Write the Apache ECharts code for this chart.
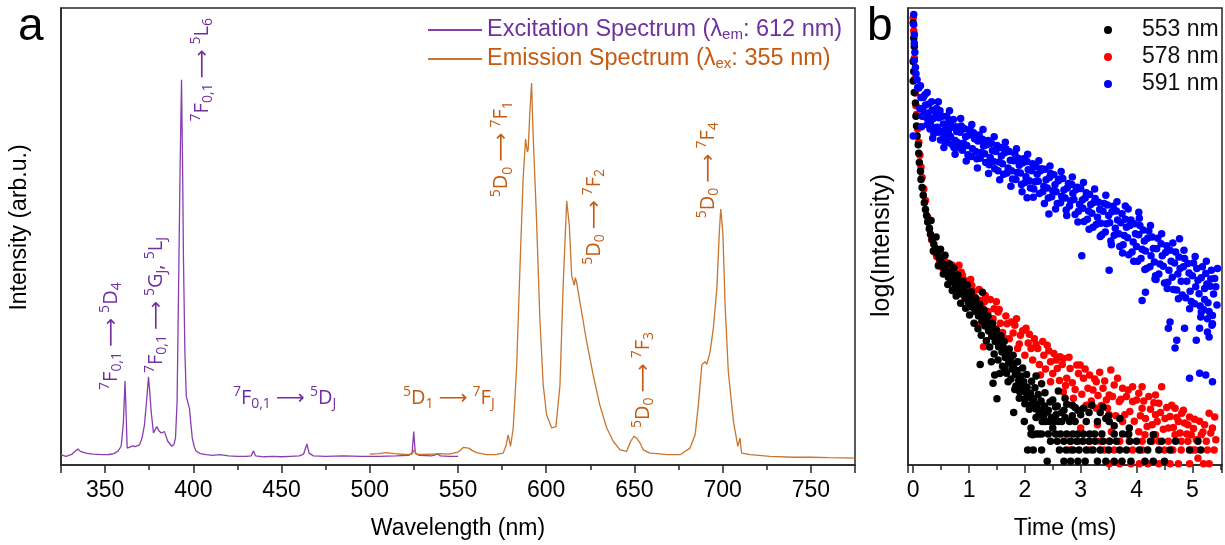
<!DOCTYPE html>
<html><head><meta charset="utf-8">
<script src="https://cdn.jsdelivr.net/npm/echarts@6/dist/echarts.min.js"></script>
<style>html,body{margin:0;padding:0;background:#fff}#c{width:1225px;height:545px}</style>
</head><body><div id="c"></div>
<script>
// ---------------- DATA ----------------
// Panel a: excitation spectrum (lambda_em = 612 nm)
const excWl = [325,327.9,331,334.5,336,339.2,343,348.6,352,355,357.2,359.1,360.3,361.3,362.0,362.5,365.7,367,369.5,371,372.3,373.5,374.6,375.3,376.1,377.4,379.3,380.5,381.8,383.6,385.5,387.8,389.0,389.9,390.8,391.6,392.5,393.3,394.0,394.4,395.2,396.0,397.8,398.6,399.4,400.5,401.6,404,407.3,411,414.9,420,425,430,432.8,434.1,435.2,440,445,450,455,460,462.5,464.4,465.6,468,475,485,495,505,515,522,524,524.9,525.8,528,535,538.5,540,545,550];
const excI  = [2.2,1.9,2.3,3.5,3.0,2.6,2.4,2.25,2.3,2.5,3.0,4.1,9,18.4,10,3.7,4.2,4.0,4.4,6.0,8.8,14,19.3,16,11.7,7.0,8.4,7.5,7.0,7.3,5.2,4.1,4.5,5.9,14,37.8,65,84.3,62,45.1,25,15.0,12.4,9,5.9,4.0,3.0,2.5,2.25,2.1,2.25,2.0,1.9,1.9,2.0,3.1,2.0,1.8,1.9,1.8,1.9,2.0,2.4,4.6,2.6,2.0,1.9,2.0,1.9,1.9,2.0,2.1,2.6,7.3,2.6,2.1,2.0,2.4,2.0,1.9,1.9];
// Panel a: emission spectrum (lambda_ex = 355 nm)
const emWl = [500,505,509.4,514,520,524,525.2,526.4,530,535,540,545,550,553,556,558,560.5,566.2,572,575.6,577.2,578.4,579.8,581.3,583.2,585.1,586.9,588.3,589.3,589.8,590.7,591.7,592.6,594.5,596.4,598.3,600.2,603.1,605.5,607.8,609.6,611.6,613.1,614.4,615.9,616.5,617.2,619.1,622.9,626.6,630.4,634.3,638.0,641.8,645.6,647.9,649.7,651.3,653.2,655.0,658.8,663,668.3,675.9,681.5,684.4,686.2,688.2,690.0,691.0,691.6,692.9,694.7,696.7,698.1,698.9,700.1,701.4,703.2,706.1,708.6,709.6,709.9,710.3,710.8,715.6,726.9,740,750,760,775];
const emI  = [2.4,2.5,2.7,2.5,2.3,2.4,3.3,2.4,2.3,2.4,2.5,2.4,2.8,3.85,3.7,3.2,2.7,2.25,2.3,2.6,4.2,6.6,4.1,8.1,21.1,42.9,62.5,71.3,68.5,69.1,77.1,83.6,72.0,53.8,32.0,17.5,11.0,8.1,8.4,17.5,39.3,57.8,52.4,41.5,39.3,41.0,40.0,35.7,27.0,19.7,13.1,8.1,5.2,3.3,3.0,5.2,6.25,5.9,4.8,3.3,2.6,2.5,2.25,2.25,3.7,6.6,13.1,21.9,22.6,22.0,22.9,24.8,29.9,38.6,50.9,56.0,50.9,34.9,20.4,9.5,4.1,4.5,5.9,4.0,2.6,2.25,1.9,1.7,1.7,1.6,1.5];
const waveTicks = [350,400,450,500,550,600,650,700,750];
const timeTicks = [0,1,2,3,4,5];

// Panel b: decay curves [time (ms), log intensity (arb.)]
const decay553 = [[0.0,96.7],[0.01,93.4],[0.02,91.6],[0.0,88.3],[0.01,86.1],[0.0,84.0],[0.02,81.5],[0.04,79.2],[0.05,76.3],[0.06,74.2],[0.07,72.0],[0.09,70.1],[0.1,68.2],[0.11,66.2],[0.13,64.3],[0.14,62.5],[0.16,60.7],[0.18,59.0],[0.2,57.4],[0.22,55.9],[0.24,54.6],[0.26,53.2],[0.29,51.8],[0.31,50.5],[0.34,49.4],[0.37,48.3],[0.4,47.4],[0.43,46.3],[0.46,45.4],[0.5,44.5],[0.53,43.6],[0.56,42.8],[0.6,41.9],[0.58,43.9],[0.63,41.1],[0.66,42.3],[0.69,40.2],[0.72,41.4],[0.75,39.3],[0.78,40.4],[0.81,38.4],[0.84,39.6],[0.87,37.4],[0.9,38.6],[0.93,36.5],[0.96,37.6],[0.99,35.6],[1.02,36.5],[1.05,34.6],[1.08,35.6],[1.11,33.6],[1.14,34.6],[1.17,32.6],[1.2,33.4],[1.23,31.5],[1.24,37.8],[1.26,32.5],[1.29,30.4],[1.32,31.4],[1.35,29.3],[1.38,30.3],[1.4,22.6],[1.41,28.2],[1.43,17.9],[1.44,29.2],[1.46,19.7],[1.47,27.0],[1.5,28.0],[1.53,25.9],[1.56,26.8],[1.59,24.7],[1.62,25.6],[1.64,21.1],[1.65,23.5],[1.68,24.4],[1.71,22.3],[1.74,23.2],[1.77,21.0],[1.8,22.0],[1.83,19.8],[1.86,20.7],[1.89,18.5],[1.92,19.5],[1.95,17.3],[1.98,18.2],[1.99,9.5],[2.01,16.0],[2.04,17.0],[2.07,14.8],[2.1,15.7],[2.11,8.1],[2.13,13.5],[2.14,6.6],[2.16,14.5],[2.19,12.3],[2.22,13.2],[2.25,11.0],[2.28,12.0],[2.31,9.5],[2.34,10.8],[2.37,9.5],[2.4,11.6],[2.44,9.5],[2.48,10.4],[2.52,9.5],[2.56,11.0],[2.6,9.5],[2.66,9.5],[2.72,10.4],[2.8,9.5],[2.9,9.5],[3.0,11.0],[3.1,9.5],[3.3,9.5],[3.45,10.2],[3.51,9.5],
[1.55,20.0],[1.7,18.2],[1.82,16.5],[1.9,14.6],[2.0,13.4],[2.08,12.2],[2.2,10.4],[2.35,12.9],[2.45,13.8],[2.55,12.7],[2.7,12.0],[2.9,12.6],[3.05,12.4],[2.2,19.5],[2.3,17.8],[2.6,16.2],[2.72,14.6],[2.85,13.1],[3.2,13.1],[3.35,11.5],[3.5,10.8],[3.87,8.1],[4.3,6.6],
[0.32,53.5],[0.36,46.8],[0.41,49.9],[0.45,43.6],[0.49,47.2],[0.54,41.8],[0.57,45.9],[0.62,39.5],[0.65,44.0],[0.7,38.2],[0.73,43.1],[0.77,37.0],[0.8,41.6],[0.85,35.4],[0.89,40.2],[0.94,34.3],[0.97,39.4],[1.01,32.8],[1.04,37.9],[1.09,31.0],[1.12,36.5],[1.16,29.8],[1.19,35.2],[1.22,28.4],[1.27,33.9],[1.31,27.2],[1.34,32.6],[1.37,25.8],[1.42,31.0],[1.45,24.3],[1.49,29.6],[1.52,23.0],[1.57,28.3],[1.6,21.6],[1.63,27.0],[1.67,20.1],[1.72,25.4],[1.75,18.8],[1.79,24.0],[1.84,17.3],[1.87,22.6],[1.91,16.0],[1.96,21.2],[2.0,14.5],[2.03,19.8],[2.09,13.1],[2.12,18.3],[2.18,16.9],[2.24,15.4],[2.29,14.0],[2.36,15.8],[2.42,12.0],[2.5,14.2],[2.58,12.9],[2.66,11.5],[2.75,13.3],[2.85,10.8],[2.95,12.0],[3.15,11.5],[3.4,12.7],[3.6,8.6],[3.7,10.2],[1.2,22.0],[1.5,14.5],[1.8,11.5],[2.25,6.8],[2.5,8.1],
[2.11,6.8],[2.2,6.8],[2.3,6.8],[2.42,6.8],[2.55,6.8],[2.64,6.8],[2.75,6.8],[2.86,6.8],[2.95,6.8],[3.05,6.8],[3.16,6.8],[3.25,6.8],[3.38,6.8],[3.6,6.8],[3.75,6.8],[3.86,6.8],
[2.46,5.2],[2.58,5.2],[2.7,5.2],[2.82,5.2],[2.93,5.2],[3.04,5.2],[3.15,5.2],[3.26,5.2],[3.4,5.2],[3.52,5.2],[3.64,5.2],[3.88,5.2],[4.0,5.2],[4.25,5.2],[4.45,5.2],[4.7,5.2],[5.1,5.2],
[2.05,3.3],[2.15,3.3],[2.3,3.3],[2.62,3.3],[2.74,3.3],[2.86,3.3],[2.97,3.3],[3.1,3.3],[3.22,3.3],[3.35,3.3],[3.5,3.3],[3.7,3.3],[3.82,3.3],[4.05,3.3],[4.2,3.3],[4.4,3.3],[4.6,3.3],[4.95,3.3],[5.15,3.3],
[2.4,0.8],[2.7,0.8],[2.82,0.8],[2.95,0.8],[3.08,0.8],[3.3,0.8],[3.45,0.8],[3.6,0.8],[3.74,0.8],[3.9,0.8],[4.15,0.8],[4.3,0.8],[4.5,0.8]];

const decay578 = [[0.0,97.8],[0.01,95.0],[0.02,89.0],[0.03,84.5],[0.04,81.4],[0.05,78.6],[0.06,76.7],[0.08,73.5],[0.1,70.6],[0.12,67.8],[0.14,65.2],[0.16,62.9],[0.19,60.4],[0.22,57.9],[0.26,54.2],[0.29,51.6],[0.33,49.3],[0.38,46.6],[0.42,45.6],[0.47,44.4],[0.52,43.2],[0.58,42.9],[0.64,41.3],[0.7,43.7],[0.76,40.5],[0.82,43.7],[0.88,41.5],[0.94,38.6],[1.0,39.6],[1.05,39.3],[1.1,36.8],[1.17,30.6],[1.2,36.0],[1.26,25.9],[1.29,37.1],[1.34,33.6],[1.41,28.4],[1.45,34.2],[1.49,35.7],[1.52,33.5],[1.56,31.0],[1.64,27.7],[1.68,30.9],[1.76,31.3],[1.82,30.6],[1.87,25.5],[1.92,28.4],[2.02,29.9],[2.06,26.7],[2.11,25.5],[2.17,27.6],[2.23,25.5],[2.28,19.7],[2.34,24.0],[2.4,26.2],[2.46,22.6],[2.46,18.2],[2.52,24.4],[2.58,21.1],[2.63,23.7],[2.69,23.3],[2.69,16.0],[2.75,19.0],[2.81,21.1],[2.87,14.6],[2.93,21.9],[2.99,21.9],[3.05,19.0],[3.1,13.1],[3.16,19.7],[3.22,16.4],[3.28,18.2],[3.28,12.4],[3.34,20.3],[3.4,16.8],[3.46,14.2],[3.51,15.3],[3.51,11.0],[3.54,20.8],[3.6,17.5],[3.69,13.9],[3.75,16.8],[3.75,9.5],[3.82,15.0],[3.88,11.7],[3.93,17.1],[3.93,13.9],[4.04,7.3],[4.04,15.7],[4.1,17.1],[4.1,12.4],[4.16,10.2],[4.22,15.0],[4.28,8.8],[4.34,15.3],[4.34,11.0],[4.34,6.6],[4.4,13.5],[4.45,17.1],[4.51,10.2],[4.57,8.1],[4.63,13.1],[4.69,12.4],[4.69,6.6],[4.75,9.5],[4.81,11.3],[4.86,9.2],[4.92,8.8],[4.98,6.6],[5.04,10.0],[5.1,1.5],[5.16,6.6],[5.22,8.8],[5.3,11.3],[5.36,8.1],[5.39,3.3],[5.27,3.3],[5.42,5.5],
[0.45,46.5],[0.55,45.0],[0.62,44.2],[0.68,41.0],[0.74,42.6],[0.8,39.8],[0.86,42.2],[0.92,40.4],[0.98,37.9],[1.03,40.6],[1.08,38.0],[1.13,35.5],[1.18,38.4],[1.23,34.6],[1.28,35.8],[1.33,31.2],[1.38,36.2],[1.43,32.0],[1.47,29.8],[1.54,34.0],[1.6,29.0],[1.66,32.6],[1.72,27.6],[1.79,28.9],[1.85,32.0],[1.9,26.5],[1.96,29.4],[2.0,24.0],[2.08,28.6],[2.14,23.0],[2.2,26.4],[2.26,22.0],[2.32,27.0],[2.37,21.0],[2.43,25.0],[2.5,20.0],[2.56,23.0],[2.62,18.5],[2.67,22.0],[2.73,17.4],[2.79,23.6],[2.85,18.0],[2.9,16.5],[2.96,20.0],[3.02,15.5],[3.08,21.0],[3.13,16.8],[3.19,14.0],[3.25,18.8],[3.31,15.2],[3.37,13.0],[3.43,18.4],[3.48,12.4],[3.57,15.0],[3.63,10.8],[3.66,19.0],[3.72,14.4],[3.79,11.0],[3.85,16.4],[3.96,9.6],[4.0,14.2],[4.07,10.8],[4.13,14.0],[4.19,8.4],[4.25,12.2],[4.31,13.6],[4.37,9.5],[4.43,11.5],[4.48,7.8],[4.54,12.6],[4.6,10.6],[4.66,8.2],[4.72,10.4],[4.78,7.0],[4.84,12.0],[4.9,6.8],[4.95,10.5],[5.02,8.0],[5.07,5.5],[5.13,9.6],[5.19,7.2],[5.25,5.2],[5.33,7.0],[5.4,10.5],[3.0,8.1],[3.3,8.8],[3.55,7.3],[3.85,6.6],[4.15,6.6],[4.4,5.2],[4.65,3.3],[5.05,3.3],
[2.81,5.2],[2.95,5.2],[3.16,5.2],[3.35,5.2],[3.51,5.2],[3.7,5.2],[3.87,5.2],[4.1,5.2],[4.28,5.2],[4.57,5.2],[4.8,5.2],[4.92,5.2],[2.81,3.3],[3.16,3.3],[3.42,3.3],[3.6,3.3],[3.93,3.3],[4.1,3.3],[4.5,3.3],[4.8,3.3],[5.0,3.3],[3.51,0.3],[3.7,0.3],[3.9,0.3],[4.05,0.3],[4.2,0.3],[4.4,0.3],[4.6,0.3],[4.75,0.3],[4.95,0.3],[5.2,0.3],[5.3,0.3]];

const decay591 = [[0.01,98.6],[0.01,96.4],[0.02,94.2],[0.02,92.3],[0.03,90.3],[0.02,88.5],[0.04,87.0],[0.05,85.6],[0.07,84.3],[0.0,72.0],[0.08,82.6],
[0.1,82.5],[0.12,78.0],[0.14,80.4],[0.16,76.3],[0.18,80.4],[0.2,76.5],[0.22,78.8],[0.25,74.5],[0.28,79.0],[0.31,75.0],[0.34,77.6],[0.37,72.6],[0.4,77.2],[0.43,73.9],[0.46,76.0],[0.49,71.1],[0.52,76.3],[0.55,72.0],[0.58,74.1],[0.61,70.6],[0.64,75.5],[0.67,71.9],[0.7,73.9],[0.73,69.5],[0.76,74.0],[0.8,70.5],[0.84,72.8],[0.88,68.9],[0.92,73.6],[0.96,69.9],[1.0,72.2],[1.04,67.5],[1.08,72.7],[1.12,68.6],[1.16,70.9],[1.2,67.1],[1.24,71.3],[1.28,68.1],[1.32,70.1],[1.36,65.7],[1.4,70.4],[1.44,66.4],[1.48,68.6],[1.52,64.4],[1.56,69.5],[1.6,65.9],[1.64,68.3],[1.68,63.9],[1.72,68.6],[1.76,64.4],[1.8,66.6],[1.84,62.5],[1.88,67.1],[1.92,63.9],[1.96,66.1],[2.0,61.8],[2.04,58.5],[2.04,66.4],[2.08,62.2],[2.12,64.4],[2.16,60.4],[2.2,65.3],[2.24,62.1],[2.28,64.4],[2.32,59.8],[2.36,64.7],[2.4,60.6],[2.43,54.9],[2.44,62.9],[2.48,58.7],[2.52,63.5],[2.56,59.8],[2.6,62.2],[2.64,57.4],[2.68,62.7],[2.72,58.4],[2.76,60.6],[2.8,56.7],[2.84,61.4],[2.88,58.1],[2.92,60.3],[2.96,55.5],[3.0,60.5],[3.02,45.8],[3.04,56.2],[3.08,58.4],[3.12,53.8],[3.16,59.2],[3.2,55.1],[3.24,57.5],[3.28,52.6],[3.32,57.5],[3.36,52.9],[3.4,55.5],[3.44,51.0],[3.48,56.9],[3.51,42.6],[3.52,53.0],[3.56,55.4],[3.6,50.3],[3.64,55.6],[3.68,50.6],[3.72,53.0],[3.76,48.2],[3.8,53.8],[3.8,56.7],[3.84,49.7],[3.88,52.4],[3.92,46.6],[3.96,52.8],[4.0,47.8],[4.04,50.4],[4.04,55.3],[4.08,45.2],[4.1,36.0],[4.12,51.4],[4.16,46.8],[4.16,37.8],[4.2,49.6],[4.24,43.4],[4.28,49.9],[4.32,44.4],[4.33,40.7],[4.36,47.3],[4.4,41.8],[4.44,48.4],[4.48,43.5],[4.52,46.5],[4.56,40.0],[4.57,29.9],[4.6,31.3],[4.6,47.0],[4.64,41.1],[4.68,44.2],[4.69,25.6],[4.72,38.3],[4.72,27.3],[4.76,45.5],[4.77,49.5],[4.8,40.2],[4.84,43.4],[4.86,29.9],[4.88,36.6],[4.92,44.1],[4.95,19.0],[4.96,38.0],[5.0,41.4],[5.04,35.3],[5.07,27.3],[5.08,43.0],[5.12,37.5],[5.13,29.9],[5.13,20.1],[5.16,41.0],[5.16,33.5],[5.2,34.0],[5.22,38.6],[5.24,19.7],[5.24,41.9],[5.27,29.1],[5.27,32.0],[5.28,35.5],[5.3,28.0],[5.32,39.1],[5.33,40.7],[5.36,30.9],[5.36,18.2],[5.36,32.7],[5.4,40.8],[5.44,35.0],
[0.13,83.0],[0.17,77.8],[0.21,81.0],[0.24,76.0],[0.27,77.0],[0.3,73.5],[0.33,79.5],[0.36,75.8],[0.39,73.8],[0.42,78.0],[0.45,72.8],[0.48,77.5],[0.51,73.0],[0.54,74.6],[0.57,70.8],[0.6,76.3],[0.63,72.8],[0.66,74.6],[0.69,70.2],[0.72,75.6],[0.75,71.0],[0.78,73.0],[0.82,69.4],[0.86,74.2],[0.9,70.4],[0.94,71.8],[0.98,67.9],[1.02,73.4],[1.06,69.2],[1.1,71.4],[1.14,67.0],[1.18,72.2],[1.22,68.4],[1.26,69.8],[1.3,66.2],[1.34,71.0],[1.38,67.3],[1.42,68.8],[1.46,64.8],[1.5,69.9],[1.54,66.3],[1.58,67.6],[1.62,63.6],[1.66,69.2],[1.7,65.0],[1.74,66.7],[1.78,62.6],[1.82,68.1],[1.86,64.0],[1.9,65.6],[1.94,61.4],[1.98,67.0],[2.02,63.1],[2.06,64.6],[2.1,60.6],[2.14,65.9],[2.18,62.0],[2.22,63.6],[2.26,59.4],[2.3,64.8],[2.34,61.0],[2.38,62.4],[2.42,58.4],[2.46,63.8],[2.5,60.0],[2.54,61.3],[2.58,57.2],[2.62,62.6],[2.66,58.8],[2.7,60.2],[2.74,55.8],[2.78,61.6],[2.82,57.8],[2.86,59.4],[2.9,54.8],[2.94,60.8],[2.98,57.0],[3.03,58.0],[3.06,53.3],[3.1,59.6],[3.14,55.6],[3.18,57.0],[3.22,52.0],[3.26,58.3],[3.3,54.2],[3.34,55.9],[3.38,50.4],[3.42,57.2],[3.46,52.8],[3.5,54.6],[3.54,49.0],[3.58,56.6],[3.62,51.8],[3.66,53.6],[3.7,47.8],[3.74,55.0],[3.78,50.2],[3.82,52.0],[3.86,46.0],[3.9,53.6],[3.94,48.8],[3.98,50.6],[4.02,44.6],[4.06,52.4],[4.1,47.2],[4.14,49.0],[4.18,43.0],[4.22,51.2],[4.26,45.8],[4.3,47.4],[4.34,41.4],[4.38,49.6],[4.42,44.0],[4.46,45.8],[4.5,39.8],[4.54,48.0],[4.58,42.6],[4.62,44.6],[4.66,38.4],[4.7,46.6],[4.74,41.8],[4.78,43.0],[4.82,37.2],[4.86,45.2],[4.9,40.2],[4.94,42.0],[4.98,35.8],[5.02,44.2],[5.06,39.0],[5.1,40.4],[5.14,34.8],[5.18,43.4],[5.22,36.2],[5.26,39.6],[5.3,33.6],[5.34,42.6],[5.38,37.4],[5.42,39.0],
[0.15,74.0],[0.25,81.5],[0.35,71.5],[0.45,79.5],[0.55,69.5],[0.65,77.5],[0.75,68.0],[0.85,75.8],[0.95,66.5],[1.05,74.5],[1.15,65.0],[1.25,73.4],[1.35,63.8],[1.45,71.8],[1.55,62.4],[1.65,70.6],[1.75,61.0],[1.85,69.2],[1.95,59.8],[2.05,68.0],[2.15,58.6],[2.25,66.6],[2.35,57.2],[2.45,65.4],[2.55,56.0],[2.65,64.2],[2.75,54.6],[2.85,63.0],[2.95,53.2],[3.05,61.8],[3.15,51.6],[3.25,60.4],[3.35,50.0],[3.45,59.0],[3.55,48.2],[3.65,57.6],[3.75,46.4],[3.85,56.0],[3.95,44.6],[4.05,54.0],[4.15,42.8],[4.25,52.4],[4.35,40.6],[4.45,50.6],[4.55,38.6],[4.65,48.6],[4.75,36.4],[4.85,47.0],[4.95,34.2],[5.05,45.6],[5.15,32.4],[5.25,44.6],[5.35,30.6],[5.45,43.0]];

// ---------------- STYLE / LAYOUT ----------------
const PUR = '#7030A0', ORA = '#C55A11';
const PUR_LINE = '#8A3DAE', ORA_LINE = '#C8752F';
const AX = '#262626';
const FONT = '"Liberation Sans", Arial, sans-serif';
const ANN = '"Open Sans", "DejaVu Sans", sans-serif';

function richFor(c){
  return {
    n:{fontSize:20, fontFamily:ANN, color:c, lineHeight:26},
    u:{fontSize:14, fontFamily:ANN, color:c, lineHeight:16, verticalAlign:'top'},
    d:{fontSize:14, fontFamily:ANN, color:c, lineHeight:16, verticalAlign:'bottom'}
  };
}
const ARW = '{n| \u27F6 }';
const excAnn = [
  {coord:[353.4,28.2], rot:90, text:'{u|7}{n|F}{d|0,1}'+ARW+'{u|5}{n|D}{d|4}'},
  {coord:[378.9,35.0], rot:90, text:'{u|7}{n|F}{d|0,1}'+ARW+'{u|5}{n|G}{d|J}{n|, }{u|5}{n|L}{d|J}'},
  {coord:[405.2,86.5], rot:90, text:'{u|7}{n|F}{d|0,1}'+ARW+'{u|5}{n|L}{d|6}'},
  {coord:[451.7,14.6], rot:0,  text:'{u|7}{n|F}{d|0,1}'+ARW+'{u|5}{n|D}{d|J}'}
];
const emAnn = [
  {coord:[544.8,14.6], rot:0,  text:'{u|5}{n|D}{d|1}'+ARW+'{u|7}{n|F}{d|J}'},
  {coord:[574.7,69.1], rot:90, text:'{u|5}{n|D}{d|0}'+ARW+'{u|7}{n|F}{d|1}'},
  {coord:[627.1,54.3], rot:90, text:'{u|5}{n|D}{d|0}'+ARW+'{u|7}{n|F}{d|2}'},
  {coord:[654.9,18.6], rot:90, text:'{u|5}{n|D}{d|0}'+ARW+'{u|7}{n|F}{d|3}'},
  {coord:[691.7,64.5], rot:90, text:'{u|5}{n|D}{d|0}'+ARW+'{u|7}{n|F}{d|4}'}
];
function mp(list, color){
  return {
    silent:true, animation:false,
    data: list.map(a => ({
      coord:a.coord, symbol:'circle', symbolSize:1,
      itemStyle:{color:'rgba(0,0,0,0)'},
      label:{show:true, position:'inside', rotate:a.rot, formatter:a.text, rich:richFor(color)}
    }))
  };
}

const zip = (a,b) => a.map((x,i)=>[x,b[i]]);
const tx0 = -0.093, pxPerMs = 56.9, g2w = 320;

const axCommonX = (idx) => ({
  gridIndex: idx, type:'value',
  axisLine:{show:true, onZero:false, lineStyle:{color:AX, width:1.5}},
  axisTick:{show:true, inside:false, length:8, lineStyle:{color:AX, width:1.5}},
  minorTick:{show:true, splitNumber:2, length:5, lineStyle:{color:AX, width:1.5}},
  splitLine:{show:false}, minorSplitLine:{show:false},
  nameLocation:'middle', nameGap:52,
  nameTextStyle:{fontSize:23, fontFamily:FONT, color:'#000'}
});
const axCommonY = (idx, name, gap, fs, pad) => ({
  gridIndex: idx, type:'value', min:0, max:100,
  axisLine:{show:true, onZero:false, lineStyle:{color:AX, width:1.5}},
  axisTick:{show:false}, axisLabel:{show:false}, splitLine:{show:false},
  name:name, nameLocation:'middle', nameGap:gap,
  nameTextStyle:{fontSize:fs, fontFamily:FONT, color:'#000', padding:pad}
});

const option = {
  animation:false,
  backgroundColor:'#fff',
  grid:[
    {left:61, top:8, width:794, height:459, show:true, borderColor:AX, borderWidth:1.5, backgroundColor:'transparent'},
    {left:908, top:8, width:g2w, height:459, show:true, borderColor:AX, borderWidth:1.5, backgroundColor:'transparent'}
  ],
  xAxis:[
    Object.assign(axCommonX(0), {min:325, max:775, splitNumber:9, name:'Wavelength (nm)',
      axisLabel:{color:'#000', fontSize:23, fontFamily:FONT, margin:14,
        formatter: v => waveTicks.includes(v) ? String(v) : ''}}),
    Object.assign(axCommonX(1), {min:tx0, max:tx0 + g2w/pxPerMs, splitNumber:5, name:'Time (ms)',
      axisLabel:{color:'#000', fontSize:23, fontFamily:FONT, margin:14,
        formatter: v => timeTicks.includes(v) ? String(v) : ''}})
  ],
  yAxis:[ axCommonY(0,'Intensity (arb.u.)',30,23,[0,0,0,18]), axCommonY(1,'log(Intensity)',13,25,[0,18,0,0]) ],
  legend:[
    {left:423, top:13, orient:'vertical', itemWidth:54, itemHeight:2, itemGap:5, icon:'rect',
     data:['Excitation','Emission'],
     formatter: n => n === 'Excitation'
        ? '{pn|Excitation Spectrum (\u03BB}{ps|em}{pn|: 612 nm)}'
        : '{on|Emission Spectrum (\u03BB}{os|ex}{on|: 355 nm)}',
     textStyle:{fontSize:23, fontFamily:FONT, rich:{
        pn:{fontSize:23.5, fontFamily:FONT, color:PUR, lineHeight:24},
        ps:{fontSize:15, fontFamily:FONT, color:PUR, lineHeight:14, verticalAlign:'bottom'},
        on:{fontSize:23.5, fontFamily:FONT, color:ORA, lineHeight:24},
        os:{fontSize:15, fontFamily:FONT, color:ORA, lineHeight:14, verticalAlign:'bottom'}
     }}},
    {left:1099, top:13, orient:'vertical', itemWidth:58, itemHeight:8, itemGap:3, icon:'circle',
     data:['553 nm','578 nm','591 nm'],
     textStyle:{fontSize:23, fontFamily:FONT, color:'#111', lineHeight:24}}
  ],
  graphic:[
    {type:'text', left:18, top:4, style:{text:'a', fontSize:46, fontFamily:FONT, fill:'#000'}},
    {type:'text', left:867, top:4, style:{text:'b', fontSize:46, fontFamily:FONT, fill:'#000'}}
  ],
  series:[
    {name:'Excitation', type:'line', xAxisIndex:0, yAxisIndex:0, data:zip(excWl,excI),
     symbol:'none', showSymbol:false, color:PUR_LINE, lineStyle:{color:PUR_LINE, width:1.3},
     itemStyle:{color:PUR_LINE}, markPoint: mp(excAnn, PUR)},
    {name:'Emission', type:'line', xAxisIndex:0, yAxisIndex:0, data:zip(emWl,emI),
     symbol:'none', showSymbol:false, color:ORA_LINE, lineStyle:{color:ORA_LINE, width:1.3},
     itemStyle:{color:ORA_LINE}, markPoint: mp(emAnn, ORA)},
    {name:'578 nm', type:'scatter', xAxisIndex:1, yAxisIndex:1, data:decay578, symbolSize:7.5,
     itemStyle:{color:'#FF0000', opacity:1}},
    {name:'553 nm', type:'scatter', xAxisIndex:1, yAxisIndex:1, data:decay553, symbolSize:7.5,
     itemStyle:{color:'#000000', opacity:1}},
    {name:'591 nm', type:'scatter', xAxisIndex:1, yAxisIndex:1, data:decay591, symbolSize:7.5,
     itemStyle:{color:'#0000FF', opacity:1}}
  ]
};
const chart = echarts.init(document.getElementById('c'), null, {renderer:'canvas'});
chart.setOption(option);
</script>
</body></html>
